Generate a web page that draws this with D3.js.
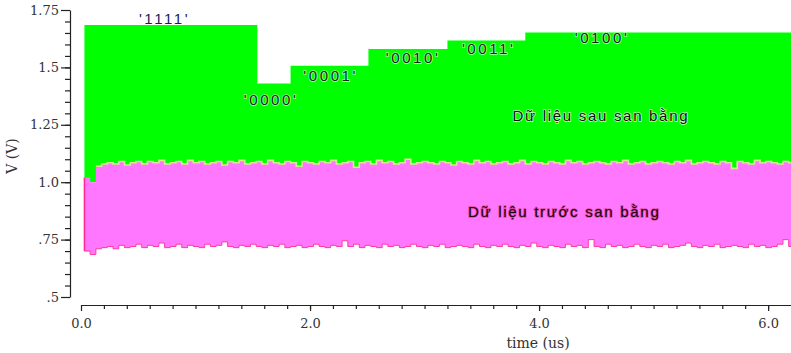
<!DOCTYPE html>
<html>
<head>
<meta charset="utf-8">
<script src="https://cdn.jsdelivr.net/npm/d3@7"></script>
<style>
  body { margin: 0; background: #fff; }
  svg { display: block; }
  .tick text { font-family: "DejaVu Serif", serif; font-size: 13px; fill: #333; }
  .axis path, .axis line { stroke: #222; stroke-width: 1.2; }
</style>
</head>
<body>
<div id="chart"></div>
<script>
// bit patterns of the equalised signal and their high levels (V)
const bitLabels = ["'1111'", "'0000'", "'0001'", "'0010'", "'0011'", "'0100'"];
const bitStart = [0.03, 1.54, 1.83, 2.51, 3.20, 3.88];   // us
const bitLevel = [1.685, 1.43, 1.507, 1.58, 1.617, 1.652];
const bitLabelT = [0.73, 1.66, 2.18, 2.90, 3.56, 4.55];
const bitLabelV = [1.713, 1.361, 1.465, 1.543, 1.583, 1.630];
const tEnd = 6.2;
const greenFloor = 1.0;

// signal before equalisation, envelope sampled every 0.05 us from 0.03 us
const pinkStart = 0.03;
const pinkStep = 0.05;
const pinkHigh = [
  1.02, 1.00, 1.07, 1.08, 1.085, 1.08, 1.09, 1.075, 1.085, 1.09,
  1.08, 1.09, 1.085, 1.095, 1.08, 1.085, 1.09, 1.08, 1.095, 1.085,
  1.09, 1.08, 1.085, 1.09, 1.075, 1.09, 1.085, 1.095, 1.08, 1.085,
  1.09, 1.08, 1.095, 1.085, 1.08, 1.09, 1.085, 1.07, 1.09, 1.085,
  1.08, 1.09, 1.085, 1.095, 1.08, 1.085, 1.09, 1.065, 1.085, 1.09,
  1.08, 1.095, 1.085, 1.09, 1.08, 1.085, 1.10, 1.08, 1.085, 1.09,
  1.085, 1.08, 1.09, 1.085, 1.075, 1.09, 1.085, 1.08, 1.095, 1.085,
  1.09, 1.08, 1.085, 1.09, 1.08, 1.085, 1.095, 1.08, 1.09, 1.085,
  1.08, 1.09, 1.085, 1.08, 1.095, 1.085, 1.09, 1.08, 1.085, 1.09,
  1.085, 1.08, 1.09, 1.085, 1.095, 1.08, 1.085, 1.09, 1.08, 1.085,
  1.09, 1.085, 1.08, 1.09, 1.085, 1.095, 1.08, 1.085, 1.09, 1.085,
  1.08, 1.09, 1.085, 1.06, 1.09, 1.085, 1.08, 1.095, 1.085, 1.09,
  1.085, 1.08, 1.09, 1.085
];
const pinkLow = [
  0.70, 0.685, 0.71, 0.715, 0.72, 0.71, 0.725, 0.715, 0.72, 0.73,
  0.715, 0.725, 0.72, 0.735, 0.715, 0.72, 0.73, 0.715, 0.725, 0.72,
  0.715, 0.73, 0.72, 0.725, 0.74, 0.72, 0.715, 0.725, 0.72, 0.73,
  0.72, 0.715, 0.725, 0.72, 0.73, 0.715, 0.72, 0.725, 0.715, 0.72,
  0.73, 0.72, 0.715, 0.725, 0.72, 0.745, 0.72, 0.73, 0.715, 0.725,
  0.72, 0.715, 0.73, 0.72, 0.725, 0.715, 0.72, 0.73, 0.72, 0.715,
  0.725, 0.72, 0.73, 0.715, 0.72, 0.725, 0.72, 0.715, 0.73, 0.72,
  0.715, 0.725, 0.72, 0.73, 0.72, 0.715, 0.725, 0.72, 0.735, 0.72,
  0.715, 0.725, 0.72, 0.715, 0.73, 0.72, 0.725, 0.715, 0.75, 0.72,
  0.715, 0.73, 0.72, 0.725, 0.715, 0.72, 0.73, 0.72, 0.715, 0.725,
  0.72, 0.73, 0.715, 0.72, 0.725, 0.735, 0.72, 0.715, 0.725, 0.72,
  0.73, 0.715, 0.72, 0.725, 0.72, 0.715, 0.73, 0.72, 0.725, 0.715,
  0.72, 0.73, 0.75, 0.72
];

// series labels
const seriesNames = ["Dữ liệu sau san bằng", "Dữ liệu trước san bằng"];
const seriesLabelT = [4.54, 4.22];
const seriesLabelV = [1.291, 0.870];

// ticks
const yMajor = [0.5, 0.75, 1.0, 1.25, 1.5, 1.75];
const yLabels = [".5", ".75", "1.0", "1.25", "1.5", "1.75"];
const xMajor = [0, 2, 4, 6];

const W = 791, H = 353;
const x = d3.scaleLinear().domain([0, tEnd]).range([81, 791]);
const y = d3.scaleLinear().domain([0.5, 1.75]).range([297, 10]);

const svg = d3.select('#chart').append('svg')
  .attr('width', W)
  .attr('height', H);

// green: equalised signal
const greenPts = [];
bitStart.forEach((s, i) => {
  const e = i < bitStart.length - 1 ? bitStart[i + 1] : tEnd;
  greenPts.push([s, bitLevel[i]], [e, bitLevel[i]]);
});
const greenArea = d3.area()
  .x(d => x(d[0]))
  .y0(y(greenFloor))
  .y1(d => y(d[1]));
svg.append('path')
  .attr('d', greenArea(greenPts))
  .attr('fill', '#00ff00');

// pink: signal before equalisation
const pinkPts = pinkHigh.map((v, i) => ({t: pinkStart + i * pinkStep, hi: v, lo: pinkLow[i]}));
pinkPts.push({t: tEnd, hi: pinkHigh[pinkHigh.length - 1], lo: pinkLow[pinkLow.length - 1]});

const pinkArea = d3.area()
  .curve(d3.curveStepAfter)
  .x(d => x(d.t))
  .y0(d => y(d.lo))
  .y1(d => y(d.hi));
svg.append('path')
  .attr('d', pinkArea(pinkPts))
  .attr('fill', '#ff77ff');

// overlap band between the two signals
svg.append('path')
  .attr('d', d3.line().curve(d3.curveStepAfter).x(d => x(d.t)).y(d => y(d.hi))(pinkPts.slice(2)))
  .attr('fill', 'none')
  .attr('stroke', '#d4ec8c')
  .attr('stroke-width', 1.6);

// darker lower edge
svg.append('path')
  .attr('d', d3.line().curve(d3.curveStepAfter).x(d => x(d.t)).y(d => y(d.lo))(pinkPts))
  .attr('fill', 'none')
  .attr('stroke', '#ff3aa0')
  .attr('stroke-width', 1);

svg.append('line')
  .attr('x1', x(pinkStart)).attr('x2', x(pinkStart))
  .attr('y1', y(pinkLow[0])).attr('y2', y(pinkHigh[0]))
  .attr('stroke', '#ff2a90')
  .attr('stroke-width', 1.5);

// axes
svg.append('g')
  .attr('class', 'axis')
  .attr('transform', 'translate(70,0)')
  .call(d3.axisLeft(y).tickValues(yMajor).tickSize(9).tickSizeOuter(0).tickPadding(2)
    .tickFormat((d, i) => yLabels[i]));
svg.append('g')
  .attr('class', 'axis')
  .attr('transform', 'translate(70,0)')
  .call(d3.axisLeft(y).tickValues(d3.range(0.55, 1.75, 0.05)).tickSize(5).tickFormat(''))
  .select('.domain').remove();

svg.append('g')
  .attr('class', 'axis')
  .attr('transform', 'translate(0,305)')
  .call(d3.axisBottom(x).tickValues(xMajor).tickSize(6).tickSizeOuter(0).tickPadding(8)
    .tickFormat(d3.format('.1f')));
svg.append('g')
  .attr('class', 'axis')
  .attr('transform', 'translate(0,305)')
  .call(d3.axisBottom(x).tickValues(d3.range(0.2, 6.2, 0.2)).tickSize(4).tickFormat(''))
  .select('.domain').remove();

// axis titles
svg.append('text')
  .attr('x', 538).attr('y', 348)
  .attr('text-anchor', 'middle')
  .style('font-family', '"DejaVu Serif", serif')
  .style('font-size', '14px')
  .attr('fill', '#333')
  .text('time (us)');

svg.append('text')
  .attr('transform', 'translate(17,156) rotate(-90)')
  .attr('text-anchor', 'middle')
  .style('font-family', '"DejaVu Serif", serif')
  .style('font-size', '14px')
  .attr('fill', '#333')
  .text('V (V)');

// bit pattern labels
svg.selectAll('text.bit')
  .data(bitLabels)
  .enter()
  .append('text')
  .attr('class', 'bit')
  .attr('x', (d, i) => x(bitLabelT[i]))
  .attr('y', (d, i) => y(bitLabelV[i]))
  .attr('dy', '0.35em')
  .attr('text-anchor', 'middle')
  .style('font-family', '"Liberation Sans", Arial, sans-serif')
  .style('font-size', '15px')
  .style('letter-spacing', '2.6px')
  .style('paint-order', 'stroke')
  .attr('stroke', (d, i) => i === 0 ? 'none' : '#a8ffa8')
  .attr('stroke-width', 1.5)
  .attr('fill', (d, i) => i === 0 ? '#1c1c5a' : '#0c2a0c')
  .text(d => d);

// series labels
svg.selectAll('text.series')
  .data(seriesNames)
  .enter()
  .append('text')
  .attr('class', 'series')
  .attr('x', (d, i) => x(seriesLabelT[i]))
  .attr('y', (d, i) => y(seriesLabelV[i]))
  .attr('dy', '0.35em')
  .attr('text-anchor', 'middle')
  .style('font-family', '"Liberation Sans", Arial, sans-serif')
  .style('font-size', '15px')
  .style('letter-spacing', '1.7px')
  .style('paint-order', 'stroke')
  .attr('stroke', (d, i) => i === 0 ? '#b8ffb8' : '#e04a9c')
  .attr('stroke-width', 1.5)
  .attr('fill', (d, i) => i === 0 ? '#101010' : '#200018')
  .text(d => d);
</script>
</body>
</html>
